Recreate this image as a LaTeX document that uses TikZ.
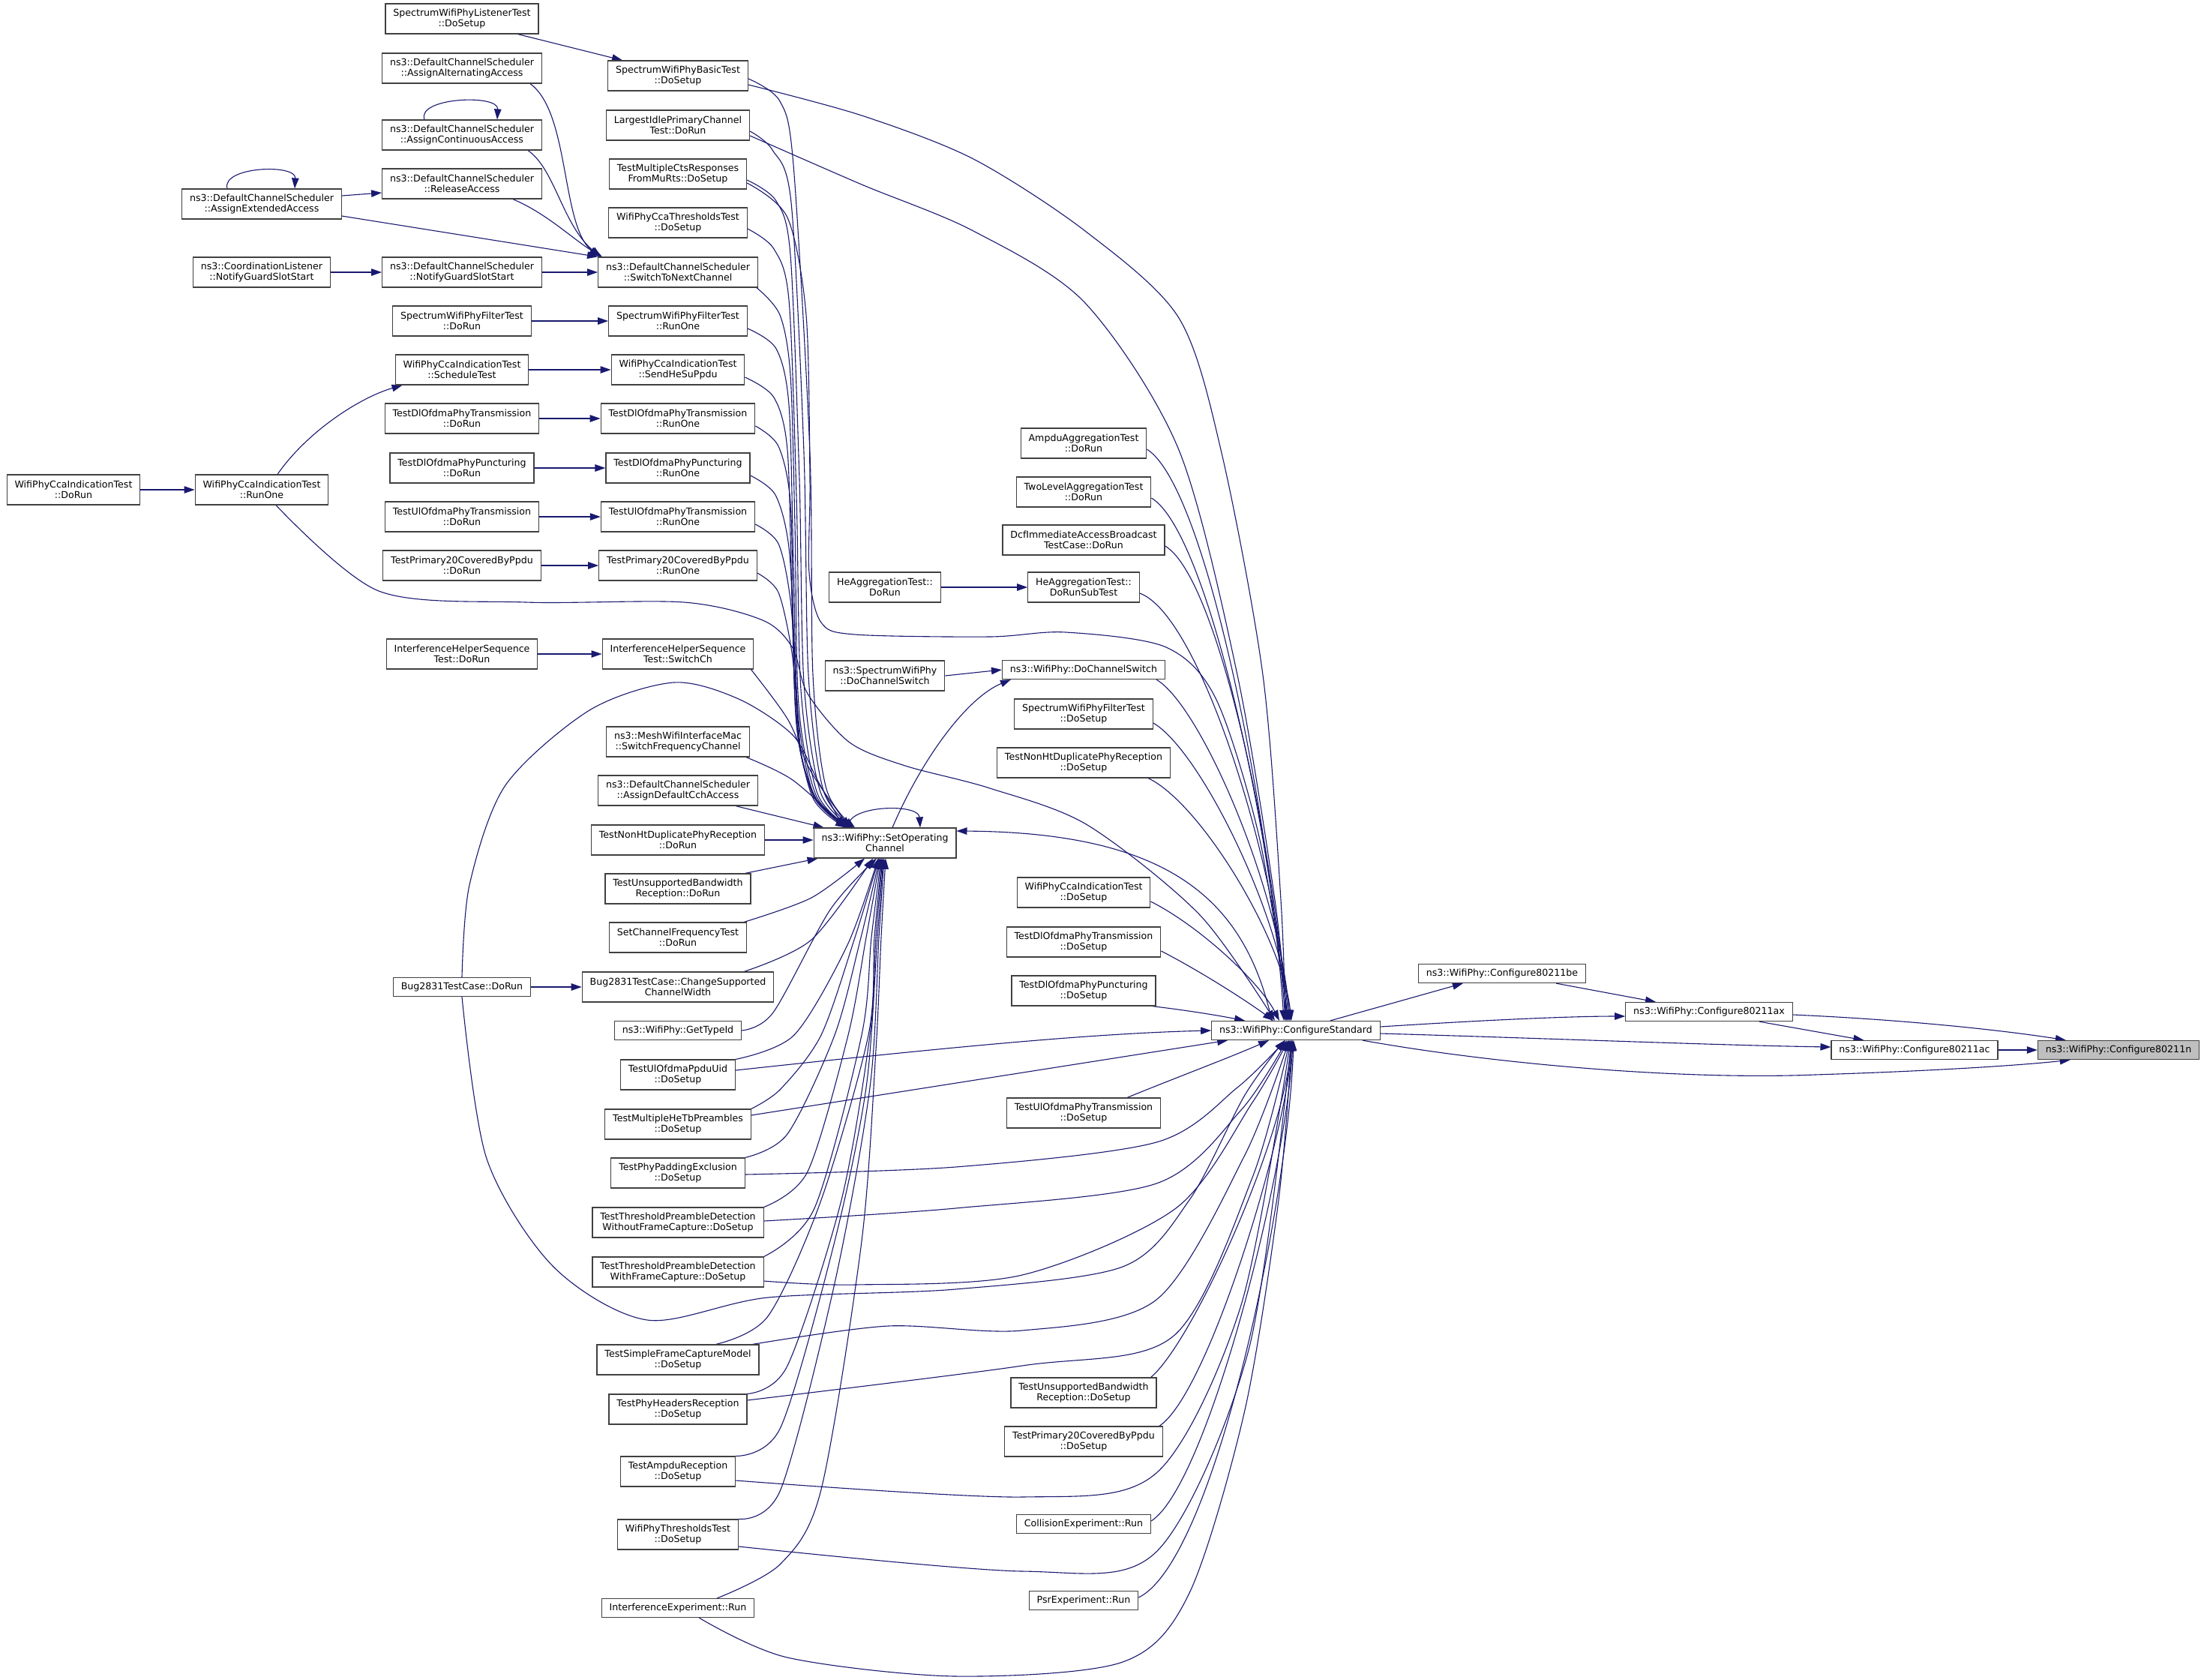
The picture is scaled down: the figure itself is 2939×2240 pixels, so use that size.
\documentclass[tikz,border=0pt]{standalone}
\usepackage{fontspec}
\setmainfont{DejaVu Sans}
\usetikzlibrary{arrows.meta,calc,backgrounds}
\definecolor{edgeblue}{HTML}{191970}
\definecolor{boxline}{HTML}{404040}
\definecolor{rootfill}{HTML}{BFBFBF}
\newcommand{\fnfont}{\fontsize{12.6pt}{14pt}\selectfont}

\begin{document}
\begin{tikzpicture}[x=1pt, y=-1pt,
    fn/.style={draw=boxline, fill=white, line width=1.2pt, font=\fnfont, align=center, inner xsep=10.4pt, inner ysep=3pt, minimum height=25pt},
    two/.style={minimum height=40pt},
    call/.style={draw=edgeblue, line width=1.1pt, -{Triangle[length=14pt, width=9.5pt]}}]

    % Configure chain
    \node[fn, fill=rootfill] (cfgn) at (2825,1400) {ns3::WifiPhy::Configure80211n};
    \node[fn] (cfgac) at (2553,1400) {ns3::WifiPhy::Configure80211ac};
    \node[fn] (cfgax) at (2279,1349) {ns3::WifiPhy::Configure80211ax};
    \node[fn] (cfgbe) at (2003,1298) {ns3::WifiPhy::Configure80211be};
    \node[fn] (cfgstd) at (1728,1374) {ns3::WifiPhy::ConfigureStandard};

    % Callers of ConfigureStandard
    \node[fn, two] (ampduagg) at (1445,591) {AmpduAggregationTest\\::DoRun};
    \node[fn, two] (twolevel) at (1445,656) {TwoLevelAggregationTest\\::DoRun};
    \node[fn, two] (dcfrun) at (1445,720) {DcfImmediateAccessBroadcast\\TestCase::DoRun};
    \node[fn, two] (heaggsub) at (1445,783) {HeAggregationTest::\\DoRunSubTest};
    \node[fn] (doswitch) at (1445,893) {ns3::WifiPhy::DoChannelSwitch};
    \node[fn, two] (filtersetup) at (1445,952) {SpectrumWifiPhyFilterTest\\::DoSetup};
    \node[fn, two] (nonhtsetup) at (1445,1017) {TestNonHtDuplicatePhyReception\\::DoSetup};
    \node[fn, two] (ccasetup) at (1445,1190) {WifiPhyCcaIndicationTest\\::DoSetup};
    \node[fn, two] (dltxsetup) at (1445,1256) {TestDlOfdmaPhyTransmission\\::DoSetup};
    \node[fn, two] (dlpunsetup) at (1445,1321) {TestDlOfdmaPhyPuncturing\\::DoSetup};
    \node[fn, two] (ultxsetup) at (1445,1484) {TestUlOfdmaPhyTransmission\\::DoSetup};
    \node[fn, two] (unsupsetup) at (1445,1857) {TestUnsupportedBandwidth\\Reception::DoSetup};
    \node[fn, two] (p20setup) at (1445,1922) {TestPrimary20CoveredByPpdu\\::DoSetup};
    \node[fn] (collision) at (1445,2032) {CollisionExperiment::Run};
    \node[fn] (psr) at (1445,2134) {PsrExperiment::Run};

    % SetOperatingChannel and neighbours
    \node[fn, two] (heaggrun) at (1180,783) {HeAggregationTest::\\DoRun};
    \node[fn, two] (specswitch) at (1180,901) {ns3::SpectrumWifiPhy\\::DoChannelSwitch};
    \node[fn, two] (setop) at (1180,1124) {ns3::WifiPhy::SetOperating\\Channel};

    % Callers of SetOperatingChannel
    \node[fn, two] (basicsetup) at (904,101) {SpectrumWifiPhyBasicTest\\::DoSetup};
    \node[fn, two] (largest) at (904,167) {LargestIdlePrimaryChannel\\Test::DoRun};
    \node[fn, two] (ctssetup) at (904,232) {TestMultipleCtsResponses\\FromMuRts::DoSetup};
    \node[fn, two] (ccathsetup) at (904,297) {WifiPhyCcaThresholdsTest\\::DoSetup};
    \node[fn, two] (switchnext) at (904,363) {ns3::DefaultChannelScheduler\\::SwitchToNextChannel};
    \node[fn, two] (filterone) at (904,428) {SpectrumWifiPhyFilterTest\\::RunOne};
    \node[fn, two] (sendhesu) at (904,493) {WifiPhyCcaIndicationTest\\::SendHeSuPpdu};
    \node[fn, two] (dltxone) at (904,558) {TestDlOfdmaPhyTransmission\\::RunOne};
    \node[fn, two] (dlpunone) at (904,624) {TestDlOfdmaPhyPuncturing\\::RunOne};
    \node[fn, two] (ultxone) at (904,689) {TestUlOfdmaPhyTransmission\\::RunOne};
    \node[fn, two] (p20one) at (904,754) {TestPrimary20CoveredByPpdu\\::RunOne};
    \node[fn, two] (ihsswitch) at (904,872) {InterferenceHelperSequence\\Test::SwitchCh};
    \node[fn, two] (meshswitch) at (904,989) {ns3::MeshWifiInterfaceMac\\::SwitchFrequencyChannel};
    \node[fn, two] (assigncch) at (904,1054) {ns3::DefaultChannelScheduler\\::AssignDefaultCchAccess};
    \node[fn, two] (nonhtrun) at (904,1120) {TestNonHtDuplicatePhyReception\\::DoRun};
    \node[fn, two] (unsuprun) at (904,1185) {TestUnsupportedBandwidth\\Reception::DoRun};
    \node[fn, two] (setfreqrun) at (904,1250) {SetChannelFrequencyTest\\::DoRun};
    \node[fn, two] (chwidth) at (904,1316) {Bug2831TestCase::ChangeSupported\\ChannelWidth};
    \node[fn] (typeid) at (904,1374) {ns3::WifiPhy::GetTypeId};
    \node[fn, two] (ppdusetup) at (904,1433) {TestUlOfdmaPpduUid\\::DoSetup};
    \node[fn, two] (hetbsetup) at (904,1499) {TestMultipleHeTbPreambles\\::DoSetup};
    \node[fn, two] (paddsetup) at (904,1564) {TestPhyPaddingExclusion\\::DoSetup};
    \node[fn, two] (nofcsetup) at (904,1630) {TestThresholdPreambleDetection\\WithoutFrameCapture::DoSetup};
    \node[fn, two] (fcsetup) at (904,1696) {TestThresholdPreambleDetection\\WithFrameCapture::DoSetup};
    \node[fn, two] (sfcsetup) at (904,1813) {TestSimpleFrameCaptureModel\\::DoSetup};
    \node[fn, two] (hdrsetup) at (904,1879) {TestPhyHeadersReception\\::DoSetup};
    \node[fn, two] (ampdusetup) at (904,1962) {TestAmpduReception\\::DoSetup};
    \node[fn, two] (thrsetup) at (904,2046) {WifiPhyThresholdsTest\\::DoSetup};
    \node[fn] (interfrun) at (904,2144) {InterferenceExperiment::Run};

    % Second level callers
    \node[fn, two] (listener) at (616,25) {SpectrumWifiPhyListenerTest\\::DoSetup};
    \node[fn, two] (assignalt) at (616,91) {ns3::DefaultChannelScheduler\\::AssignAlternatingAccess};
    \node[fn, two] (assigncont) at (616,180) {ns3::DefaultChannelScheduler\\::AssignContinuousAccess};
    \node[fn, two] (release) at (616,245) {ns3::DefaultChannelScheduler\\::ReleaseAccess};
    \node[fn, two] (schedguard) at (616,363) {ns3::DefaultChannelScheduler\\::NotifyGuardSlotStart};
    \node[fn, two] (filterrun) at (616,428) {SpectrumWifiPhyFilterTest\\::DoRun};
    \node[fn, two] (ccasched) at (616,493) {WifiPhyCcaIndicationTest\\::ScheduleTest};
    \node[fn, two] (dltxrun) at (616,558) {TestDlOfdmaPhyTransmission\\::DoRun};
    \node[fn, two] (dlpunrun) at (616,624) {TestDlOfdmaPhyPuncturing\\::DoRun};
    \node[fn, two] (ultxrun) at (616,689) {TestUlOfdmaPhyTransmission\\::DoRun};
    \node[fn, two] (p20run) at (616,754) {TestPrimary20CoveredByPpdu\\::DoRun};
    \node[fn, two] (ihsrun) at (616,872) {InterferenceHelperSequence\\Test::DoRun};
    \node[fn] (bugrun) at (616,1316) {Bug2831TestCase::DoRun};

    \node[fn, two] (assignext) at (349,272) {ns3::DefaultChannelScheduler\\::AssignExtendedAccess};
    \node[fn, two] (coordguard) at (349,363) {ns3::CoordinationListener\\::NotifyGuardSlotStart};
    \node[fn, two] (ccarunone) at (349,653) {WifiPhyCcaIndicationTest\\::RunOne};
    \node[fn, two] (ccarun) at (98,653) {WifiPhyCcaIndicationTest\\::DoRun};

    \begin{scope}[on background layer]
    \path[use as bounding box, fill=white] (0,0) rectangle (2939,2240);

    % Right part
    \draw[call] ($(cfgstd.north east)+(-67,0)$) -- ($(cfgbe.south west)+(60,0)$);
    \draw[call] ($(cfgbe.south)+(72,0)$) -- ($(cfgax.north)+(-71,0)$);
    \draw[call] ($(cfgstd.east)+(0,-5)$) .. controls (1950,1362) and (2080,1355) .. ($(cfgax.west)+(0,6)$);
    \draw[call] ($(cfgstd.east)+(0,4)$) .. controls (2050,1384) and (2300,1394) .. ($(cfgac.west)+(0,-4)$);
    \draw[call] ($(cfgstd.south east)+(-24,0)$) .. controls (2000,1420) and (2250,1440) .. (2420,1433) .. controls (2580,1428) and (2700,1420) .. ($(cfgn.south west)+(44,0)$);
    \draw[call] ($(cfgax.east)+(0,4)$) .. controls (2550,1360) and (2680,1375) .. ($(cfgn.north west)+(38,0)$);
    \draw[call] ($(cfgax.south east)+(-45,0)$) -- ($(cfgac.north west)+(44,0)$);
    \draw[call] (cfgac) -- (cfgn);

    % SetOperatingChannel
    \draw[call] ($(setop.north)+(-48,0)$) .. controls (1125,1074) and (1225,1070) .. ($(setop.north)+(47,0)$);
    \draw[call] ($(setop.north)+(10,0)$) .. controls (1230,1010) and (1290,930) .. ($(doswitch.south west)+(12,0)$);
    \draw[call] (specswitch.east) -- (doswitch.west);
    \draw[call] (heaggrun) -- (heaggsub);
    \draw[call] ($(cfgstd.north)+(-32,0)$) .. controls (1660,1200) and (1560,1110) .. ($(setop.east)+(0,-16)$);

    % Into ConfigureStandard from above
    \draw[call] plot[smooth] coordinates {($(basicsetup.east)+(0,12)$) (1149,154) (1298,212) (1447,308) (1572,424) (1629,604) (1684,900) (1708,1200) ($(cfgstd.north)+(-14,0)$)};
    \draw[call] plot[smooth] coordinates {($(largest.east)+(0,14)$) (1149,246) (1298,308) (1447,404) (1572,600) (1650,900) (1700,1200) ($(cfgstd.north)+(-12,0)$)};
    \draw[call] plot[smooth] coordinates {($(ctssetup.east)+(0,12)$) (1050,290) (1075,420) (1080,640) (1079,764) (1095,830) (1140,846) (1320,849) (1421,843) (1555,863) (1622,933) (1680,1120) ($(cfgstd.north)+(-10,0)$)};
    \draw[call] plot[smooth] coordinates {($(ccarunone.south)+(19,0)$) (505,788) (701,803) (912,803) (1017,827) (1057,864) (1077,925) (1133,990) (1207,1021) (1320,1051) (1450,1100) (1600,1220) ($(cfgstd.north)+(-28,0)$)};
    \draw[call] ($(ampduagg.east)+(0,8)$) .. controls (1610,650) and (1695,1100) .. ($(cfgstd.north)+(-16,0)$);
    \draw[call] ($(twolevel.east)+(0,8)$) .. controls (1612,710) and (1697,1120) .. ($(cfgstd.north)+(-14,0)$);
    \draw[call] ($(dcfrun.east)+(0,8)$) .. controls (1625,770) and (1700,1140) .. ($(cfgstd.north)+(-12,0)$);
    \draw[call] ($(heaggsub.east)+(0,8)$) .. controls (1600,820) and (1702,1150) .. ($(cfgstd.north)+(-10,0)$);
    \draw[call] ($(doswitch.south east)+(-12,0)$) .. controls (1600,940) and (1705,1180) .. ($(cfgstd.north)+(-8,0)$);
    \draw[call] ($(filtersetup.east)+(0,12)$) .. controls (1600,1000) and (1708,1220) .. ($(cfgstd.north)+(-8,0)$);
    \draw[call] ($(nonhtsetup.south east)+(-30,0)$) .. controls (1600,1070) and (1710,1250) .. ($(cfgstd.north)+(-6,0)$);
    \draw[call] ($(ccasetup.east)+(0,12)$) .. controls (1600,1235) and (1680,1310) .. ($(cfgstd.north)+(-22,0)$);
    \draw[call] ($(dltxsetup.east)+(0,12)$) .. controls (1610,1300) and (1670,1340) .. ($(cfgstd.north)+(-30,0)$);
    \draw[call] ($(dlpunsetup.south east)+(-5,0)$) .. controls (1590,1348) and (1630,1355) .. ($(cfgstd.north west)+(45,0)$);

    % Into ConfigureStandard from below
    \draw[call] ($(ultxsetup.north east)+(-45,0)$) .. controls (1560,1440) and (1640,1410) .. ($(cfgstd.south)+(-36,0)$);
    \draw[call] ($(unsupsetup.north east)+(-8,0)$) .. controls (1590,1790) and (1712,1520) .. ($(cfgstd.south)+(-6,0)$);
    \draw[call] ($(p20setup.north east)+(-5,0)$) .. controls (1610,1860) and (1714,1520) .. ($(cfgstd.south)+(-5,0)$);
    \draw[call] ($(collision.east)+(0,-4)$) .. controls (1610,1980) and (1716,1560) .. ($(cfgstd.south)+(-4,0)$);
    \draw[call] ($(psr.east)+(0,-4)$) .. controls (1620,2080) and (1718,1600) .. ($(cfgstd.south)+(-3,0)$);
    \draw[call] ($(ppdusetup.east)+(0,-6)$) .. controls (1250,1398) and (1450,1378) .. (cfgstd.west);
    \draw[call] ($(hetbsetup.east)+(0,-12)$) -- ($(cfgstd.south west)+(22,0)$);
    \draw[call] plot[smooth] coordinates {($(paddsetup.east)+(0,2)$) (1274,1556) (1542,1523) (1650,1450) ($(cfgstd.south)+(-14,0)$)};
    \draw[call] plot[smooth] coordinates {($(nofcsetup.east)+(0,-2)$) (1274,1611) (1542,1578) (1655,1480) ($(cfgstd.south)+(-12,0)$)};
    \draw[call] plot[smooth] coordinates {($(fcsetup.east)+(0,12)$) (1140,1713) (1363,1700) (1568,1611) (1670,1470) ($(cfgstd.south)+(-10,0)$)};
    \draw[call] plot[smooth] coordinates {($(sfcsetup.north east)+(-9,0)$) (1184,1768) (1363,1774) (1542,1733) (1660,1540) ($(cfgstd.south)+(-9,0)$)};
    \draw[call] plot[smooth] coordinates {($(hdrsetup.east)+(0,-12)$) (1363,1821) (1564,1782) (1670,1570) ($(cfgstd.south)+(-8,0)$)};
    \draw[call] plot[smooth] coordinates {($(ampdusetup.east)+(0,12)$) (1363,1996) (1542,1964) (1655,1740) ($(cfgstd.south)+(-7,0)$)};
    \draw[call] plot[smooth] coordinates {($(thrsetup.east)+(0,16)$) (1363,2095) (1542,2069) (1665,1800) ($(cfgstd.south)+(-6,0)$)};
    \draw[call] plot[smooth] coordinates {($(interfrun.south east)+(-74,0)$) (1050,2210) (1274,2235) (1497,2216) (1586,2124) (1660,1880) (1705,1600) ($(cfgstd.south)+(-5,0)$)};
    \draw[call] plot[smooth] coordinates {(bugrun.south) (649,1545) (738,1689) (863,1760) (1024,1730) (1274,1719) (1497,1689) (1586,1600) (1660,1460) ($(cfgstd.south)+(-15,0)$)};

    % Into SetOperatingChannel from above
    \draw[call] plot[smooth] coordinates {($(basicsetup.east)+(0,4)$) (1040,135) (1058,220) (1080,604) (1084,900) (1102,1052) ($(setop.north)+(-40,0)$)};
    \draw[call] plot[smooth] coordinates {($(largest.east)+(0,8)$) (1030,200) (1055,270) (1072,604) (1078,900) (1098,1054) ($(setop.north)+(-42,0)$)};
    \draw[call] plot[smooth] coordinates {($(ctssetup.east)+(0,8)$) (1035,268) (1054,340) (1066,640) (1072,910) (1094,1056) ($(setop.north)+(-44,0)$)};
    \draw[call] plot[smooth] coordinates {($(ccathsetup.east)+(0,8)$) (1032,332) (1052,400) (1062,660) (1068,920) (1090,1058) ($(setop.north)+(-46,0)$)};
    \draw[call] plot[smooth] coordinates {($(switchnext.south east)+(-2,0)$) (1040,420) (1054,500) (1060,700) (1065,940) (1088,1060) ($(setop.north)+(-48,0)$)};
    \draw[call] plot[smooth] coordinates {($(filterone.east)+(0,10)$) (1035,465) (1052,540) (1058,750) (1064,950) (1086,1062) ($(setop.north)+(-50,0)$)};
    \draw[call] plot[smooth] coordinates {($(sendhesu.east)+(0,10)$) (1032,530) (1050,600) (1056,800) (1062,960) (1084,1064) ($(setop.north)+(-52,0)$)};
    \draw[call] plot[smooth] coordinates {($(dltxone.east)+(0,10)$) (1038,595) (1054,670) (1058,850) (1063,975) (1086,1064) ($(setop.north)+(-50,0)$)};
    \draw[call] plot[smooth] coordinates {($(dlpunone.east)+(0,10)$) (1034,660) (1052,730) (1060,880) (1065,990) (1088,1066) ($(setop.north)+(-48,0)$)};
    \draw[call] plot[smooth] coordinates {($(ultxone.east)+(0,10)$) (1038,725) (1054,800) (1062,920) (1067,1000) (1090,1068) ($(setop.north)+(-46,0)$)};
    \draw[call] plot[smooth] coordinates {($(p20one.east)+(0,10)$) (1038,790) (1056,870) (1064,960) (1071,1020) (1093,1072) ($(setop.north)+(-44,0)$)};
    \draw[call] plot[smooth] coordinates {($(ihsswitch.south east)+(-4,0)$) (1051,960) (1082,1030) ($(setop.north)+(-47,0)$)};
    \draw[call] plot[smooth] coordinates {(bugrun.north) (626,1180) (674,1047) (786,947) (898,910) (985,932) (1057,980) (1090,1040) ($(setop.north)+(-55,0)$)};
    \draw[call] plot[smooth] coordinates {($(meshswitch.south east)+(-5,0)$) (1057,1040) ($(setop.north)+(-52,0)$)};
    \draw[call] ($(assigncch.south east)+(-30,0)$) -- ($(setop.north west)+(14,0)$);
    \draw[call] (nonhtrun.east) -- (nonhtrun.east -| setop.west);

    % Into SetOperatingChannel from below
    \draw[call] ($(unsuprun.north east)+(-8,0)$) -- ($(setop.south west)+(6,0)$);
    \draw[call] plot[smooth] coordinates {($(setfreqrun.north east)+(-4,0)$) (1082,1197) ($(setop.south)+(-27,0)$)};
    \draw[call] plot[smooth] coordinates {($(chwidth.north east)+(-40,0)$) (1082,1253) ($(setop.south)+(-16,0)$)};
    \draw[call] plot[smooth] coordinates {(typeid.east) (1031,1350) (1107,1213) ($(setop.south)+(-11,0)$)};
    \draw[call] plot[smooth] coordinates {(ppdusetup.north east) (1059,1380) (1130,1260) ($(setop.south)+(-9,0)$)};
    \draw[call] plot[smooth] coordinates {(hetbsetup.north east) (1041,1452) (1095,1380) (1140,1250) ($(setop.south)+(-8,0)$)};
    \draw[call] plot[smooth] coordinates {(paddsetup.north east) (1050,1512) (1113,1380) (1148,1250) ($(setop.south)+(-7,0)$)};
    \draw[call] plot[smooth] coordinates {(nofcsetup.north east) (1077,1562) (1131,1380) (1155,1250) ($(setop.south)+(-6,0)$)};
    \draw[call] plot[smooth] coordinates {(fcsetup.north east) (1086,1611) (1149,1380) (1162,1250) ($(setop.south)+(-5,0)$)};
    \draw[call] plot[smooth] coordinates {($(sfcsetup.north east)+(-58,0)$) (1024,1755) (1095,1600) (1158,1380) (1166,1250) ($(setop.south)+(-4,0)$)};
    \draw[call] plot[smooth] coordinates {(hdrsetup.north east) (1050,1821) (1122,1600) (1160,1380) (1168,1250) ($(setop.south)+(-3,0)$)};
    \draw[call] plot[smooth] coordinates {(ampdusetup.north east) (1041,1903) (1113,1655) (1155,1450) (1170,1250) ($(setop.south)+(-2,0)$)};
    \draw[call] plot[smooth] coordinates {(thrsetup.north east) (1041,1986) (1113,1711) (1160,1450) (1172,1250) ($(setop.south)+(-1,0)$)};
    \draw[call] plot[smooth] coordinates {($(interfrun.north east)+(-50,0)$) (1041,2085) (1095,1986) (1149,1655) (1168,1400) (1175,1250) ($(setop.south)+(1,0)$)};

    % Channel scheduler
    \draw[call] ($(listener.south east)+(-28,0)$) -- ($(basicsetup.north west)+(20,0)$);
    \draw[call] ($(assignalt.south east)+(-16,0)$) .. controls (760,150) and (748,300) .. ($(switchnext.north west)+(2,0)$);
    \draw[call] ($(assigncont.south east)+(-19,0)$) .. controls (740,225) and (750,300) .. ($(switchnext.north west)+(4,0)$);
    \draw[call] ($(release.south east)+(-39,0)$) .. controls (730,285) and (765,320) .. ($(switchnext.north west)+(6,0)$);
    \draw[call] ($(assigncont.north)+(-50,0)$) .. controls (555,130) and (665,125) .. ($(assigncont.north)+(47,0)$);
    \draw[call] ($(assignext.north)+(-46,0)$) .. controls (295,222) and (395,218) .. ($(assignext.north)+(44,0)$);
    \draw[call] ($(assignext.east)+(0,-11)$) -- ($(release.west)+(0,12)$);
    \draw[call] ($(assignext.east)+(0,16)$) -- (switchnext.north west);
    \draw[call] (coordguard) -- (schedguard);
    \draw[call] (schedguard) -- (switchnext);

    % Test pairs
    \draw[call] (filterrun) -- (filterone);
    \draw[call] (ccasched) -- (sendhesu);
    \draw[call] (dltxrun) -- (dltxone);
    \draw[call] (dlpunrun) -- (dlpunone);
    \draw[call] (ultxrun) -- (ultxone);
    \draw[call] (p20run) -- (p20one);
    \draw[call] (ihsrun) -- (ihsswitch);
    \draw[call] (bugrun) -- (chwidth);
    \draw[call] (ccarun) -- (ccarunone);
    \draw[call] ($(ccarunone.north)+(21,0)$) .. controls (410,575) and (480,530) .. ($(ccasched.south west)+(10,0)$);
    \end{scope}

\end{tikzpicture}
\end{document}
